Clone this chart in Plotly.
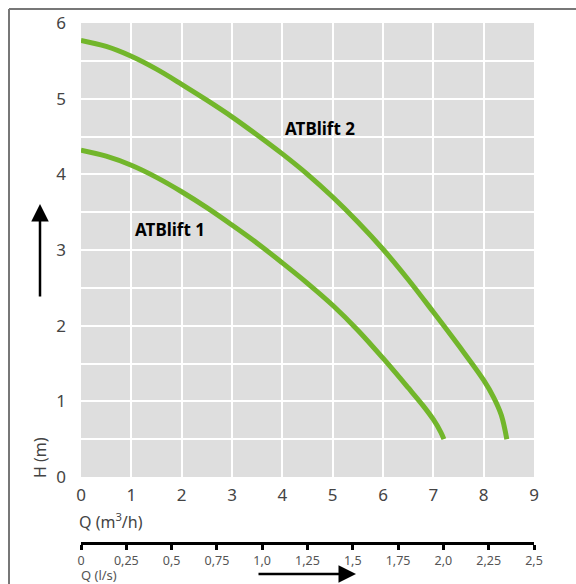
import plotly.graph_objects as go

# Data
q1 = [0, 0.5, 1, 1.5, 2, 2.5, 3, 3.5, 4, 4.5, 5, 5.5, 6, 6.5, 6.8, 7.0, 7.15, 7.21]
h1 = [4.32, 4.24, 4.12, 3.96, 3.77, 3.56, 3.33, 3.09, 2.83, 2.56, 2.27, 1.94, 1.57, 1.18, 0.94, 0.76, 0.59, 0.5]

q2 = [0, 0.5, 1, 1.5, 2, 2.5, 3, 3.5, 4, 4.5, 5, 5.5, 6, 6.5, 7, 7.5, 8, 8.2, 8.35, 8.46]
h2 = [5.77, 5.69, 5.56, 5.39, 5.19, 4.98, 4.76, 4.52, 4.27, 4.00, 3.70, 3.37, 3.01, 2.61, 2.18, 1.74, 1.28, 1.05, 0.82, 0.5]

series_names = ["ATBlift 1", "ATBlift 2"]
label_pos = [(1.77, 3.27), (4.75, 4.61)]

ls_ticks = [0, 0.25, 0.5, 0.75, 1.0, 1.25, 1.5, 1.75, 2.0, 2.25, 2.5]
ls_labels = ["0", "0,25", "0,5", "0,75", "1,0", "1,25", "1,5", "1,75", "2,0", "2,25", "2,5"]

GREEN = "#72b62b"
FONT = "Noto Sans"
W, H = 576, 584
L, R, T, B = 81, 42, 23, 41
pw, ph = W - L - R, H - T - B


def px(x):
    return (x - L) / pw


def py(y):
    return (H - B - y) / ph


fig = go.Figure()
for q, h, n in [(q1, h1, series_names[0]), (q2, h2, series_names[1])]:
    fig.add_trace(go.Scatter(x=q, y=h, mode="lines", name=n,
                             line=dict(color=GREEN, width=5, shape="spline", smoothing=1.0),
                             hoverinfo="skip", showlegend=False))

# dummy trace for secondary x axis
fig.add_trace(go.Scatter(x=[ls_ticks[0], ls_ticks[-1]], y=[-10, -10], xaxis="x2",
                         mode="lines", line=dict(width=0), hoverinfo="skip", showlegend=False))

ydom0 = py(477)

fig.update_layout(
    width=W, height=H,
    margin=dict(l=L, r=R, t=T, b=B, pad=0),
    paper_bgcolor="white",
    plot_bgcolor="#dedede",
    font=dict(family=FONT, color="#444"),
    xaxis=dict(range=[0, 9], dtick=1, showgrid=True, gridcolor="white", gridwidth=2,
               zeroline=False, showline=False, ticks="", tickfont=dict(size=17, color="#444"),
               ticklabelstandoff=6, fixedrange=True),
    yaxis=dict(range=[0, 6], dtick=1, domain=[ydom0, 1], showgrid=True, gridcolor="white",
               gridwidth=2, zeroline=False, showline=False, ticks="",
               tickfont=dict(size=17, color="#444"), ticklabelstandoff=14,
               minor=dict(dtick=0.5, showgrid=True, gridcolor="white", gridwidth=2),
               fixedrange=True),
    xaxis2=dict(range=[0, 2.5], overlaying="x", anchor="free", position=0, side="bottom",
                showgrid=False, zeroline=False, showline=True, linecolor="black", linewidth=3,
                ticks="outside", ticklen=5, tickwidth=3, tickcolor="black",
                tickvals=ls_ticks, ticktext=ls_labels, tickfont=dict(size=12.5, color="#555"),
                ticklabelstandoff=0, fixedrange=True),
)

annotations = []
for name, (x, y) in zip(series_names, label_pos):
    annotations.append(dict(x=x, y=y, xref="x", yref="y", text="<b>" + name + "</b>",
                            showarrow=False, font=dict(size=17, color="black", family=FONT)))

annotations += [
    dict(x=px(77), y=py(521), xref="paper", yref="paper", text="Q (m<sup>3</sup>/h)",
         showarrow=False, xanchor="left", yanchor="middle", font=dict(size=16, color="#444")),
    dict(x=px(40), y=py(458), xref="paper", yref="paper", text="H (m)", textangle=-90,
         showarrow=False, xanchor="center", yanchor="middle", font=dict(size=16, color="#444")),
    dict(x=px(79), y=py(575), xref="paper", yref="paper", text="Q (l/s)",
         showarrow=False, xanchor="left", yanchor="middle", font=dict(size=13, color="#555")),
    dict(x=px(40), y=py(204), xref="paper", yref="paper", text="", showarrow=True,
         ax=0, ay=94, arrowhead=2, arrowsize=1.4, arrowwidth=2.5, arrowcolor="black"),
    dict(x=px(356), y=py(574), xref="paper", yref="paper", text="", showarrow=True,
         ax=-99, ay=0, arrowhead=2, arrowsize=1.4, arrowwidth=2.5, arrowcolor="black"),
]
fig.update_layout(annotations=annotations)

fig.update_layout(shapes=[
    dict(type="line", xref="paper", yref="paper", x0=px(9), x1=px(580), y0=py(9), y1=py(9),
         line=dict(color="#777", width=2)),
    dict(type="line", xref="paper", yref="paper", x0=px(9), x1=px(9), y0=py(9), y1=py(590),
         line=dict(color="#777", width=2)),
])

fig.write_html("out.html", config={"displayModeBar": False},
               post_script="document.body.style.margin='0';document.body.style.overflow='hidden';")
